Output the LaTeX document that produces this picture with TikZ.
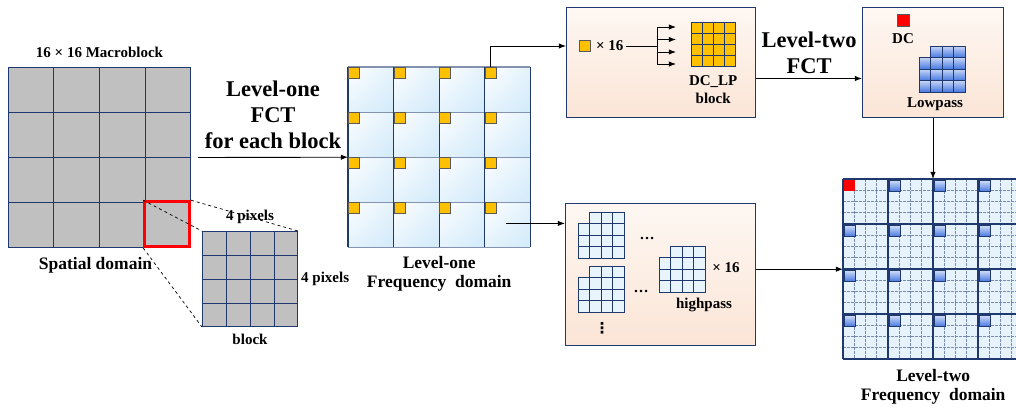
\documentclass[tikz,border=0pt]{standalone}
\usepackage{fontspec}
\setmainfont{Liberation Serif}
\newfontfamily\dotsfont{DejaVu Sans}
\usetikzlibrary{arrows.meta,positioning,calc,shadings}

\definecolor{navy}{RGB}{31,56,110}
\definecolor{pixgray}{RGB}{192,192,192}
\definecolor{dcyellow}{RGB}{255,192,0}
\definecolor{peach}{RGB}{251,229,214}
\definecolor{paleblue}{RGB}{210,234,250}
\definecolor{lpblue}{RGB}{70,120,225}
\definecolor{minorline}{RGB}{120,138,175}

% 4x4 coefficient block without its top-left cell
\newcommand{\stairs}[3]{%
  \foreach \row in {0,...,3}{\foreach \col in {0,...,3}{%
    \ifnum\numexpr\row+\col\relax>0
      \draw[#3] (#1+\col*11.5,#2+\row*11.5) rectangle ++(11.5,11.5);
    \fi}}}

\begin{document}
\begin{tikzpicture}[x=1pt,y=-1pt,>=Latex]
\tikzset{
  lbl/.style={font=\fontsize{15}{18}\selectfont\bfseries, inner sep=0pt, align=center},
  midlbl/.style={font=\fontsize{17.5}{19}\selectfont\bfseries, align=center, inner sep=0pt},
  biglbl/.style={font=\fontsize{22.5}{26}\selectfont\bfseries, align=center, inner sep=0pt},
  pixgrid/.style={draw=navy, line width=1pt, fill=pixgray, inner sep=0pt, anchor=north west},
  stage/.style={draw=navy, line width=1pt, top color=peach!30, bottom color=peach, inner sep=0pt, anchor=north west},
  dcsq/.style={draw=black!65, line width=0.8pt, fill=dcyellow, minimum size=11, inner sep=0pt, anchor=north west},
  lpsq/.style={draw=navy, line width=0.8pt, top color=lpblue!25, bottom color=lpblue, minimum size=11, inner sep=0pt, anchor=north west},
  hpcell/.style={draw=navy, line width=0.8pt, fill=paleblue!50},
  lpcell/.style={draw=navy, line width=0.8pt, top color=lpblue!30, bottom color=lpblue},
  zoomline/.style={dashed, line width=0.7pt},
  link/.style={->, line width=0.9pt}
}
\useasboundingbox (0,0) rectangle (1016,410);

% spatial domain
\node[pixgrid, minimum width=182, minimum height=180] (mb) at (8,67) {};
\foreach \i in {1,2,3} {
  \draw[navy, line width=1pt] ($(mb.north west)!\i/4!(mb.north east)$) -- ($(mb.south west)!\i/4!(mb.south east)$);
  \draw[navy, line width=1pt] ($(mb.north west)!\i/4!(mb.south west)$) -- ($(mb.north east)!\i/4!(mb.south east)$);
}
\node[draw=red, line width=2.8pt, minimum size=45, inner sep=0pt, anchor=south east] (sel) at (mb.south east) {};
\node[pixgrid, minimum size=95] (blk) at (202,231) {};
\foreach \i in {1,2,3} {
  \draw[navy, line width=1pt] ($(blk.north west)!\i/4!(blk.north east)$) -- ($(blk.south west)!\i/4!(blk.south east)$);
  \draw[navy, line width=1pt] ($(blk.north west)!\i/4!(blk.south west)$) -- ($(blk.north east)!\i/4!(blk.south east)$);
}
\draw[zoomline] (sel.north west) -- (blk.north west);
\draw[zoomline] (sel.north east) -- (blk.north east);
\draw[zoomline] (sel.south west) -- (blk.south west);
\node[lbl, above=9pt of mb] (mbtitle) {16 × 16 Macroblock};
\node[midlbl, below=9pt of mb, xshift=-4pt] (spatial) {Spatial domain};
\node[lbl, above=7pt of blk] (toplen) {4 pixels};
\node[lbl, right=3pt of blk] (sidelen) {4 pixels};
\node[lbl, below=7pt of blk] (blkname) {block};

% level-one frequency domain
\node[anchor=north west, minimum width=182, minimum height=180, inner sep=0pt] (fq1) at (348,67) {};
\foreach \row in {0,...,3} \foreach \col in {0,...,3}
  \shade[upper left=white, upper right=paleblue!60, lower left=paleblue!60, lower right=paleblue]
    ($(fq1.north west)+(\col*45.5,\row*45)$) rectangle ++(45.5,45);
\foreach \i in {0,...,4} {
  \draw[navy!55, line width=1.2pt] ($(fq1.north west)!\i/4!(fq1.south west)$) -- ($(fq1.north east)!\i/4!(fq1.south east)$);
}
\foreach \i in {0,...,4} {
  \draw[navy, line width=1.2pt] ($(fq1.north west)!\i/4!(fq1.north east)$) -- ($(fq1.south west)!\i/4!(fq1.south east)$);
}
\foreach \row in {0,...,3} \foreach \col in {0,...,3}
  \node[dcsq] (dc-\row-\col) at ($(fq1.north west)+(\col*45.5,\row*45)$) {};
\node[midlbl, below=9pt of fq1] (fq1name) {Level-one\\Frequency\ \ domain};
\coordinate (hpout) at ($(fq1.south east)+(-24,-24)$);

% DC coefficients
\node[stage, minimum width=189, minimum height=110] (dcbox) at (566,7) {};
\node[dcsq, anchor=center] (dcone) at (585,46) {};
\node[lbl, right=5pt of dcone] (dctimes) {× 16};
\coordinate (fan) at (657,46);
\node[anchor=north west, minimum size=44, inner sep=0pt] (dcgrid) at (691,22) {};
\foreach \row in {0,...,3} \foreach \col in {0,...,3}
  \draw[navy, line width=0.8pt, fill=dcyellow] ($(dcgrid.north west)+(\col*11,\row*11)$) rectangle ++(11,11);
\node[lbl, below=9pt of dcgrid] (dcname) {DC\_LP\\block};

% lowpass after level two
\node[stage, minimum width=141, minimum height=110] (lpbox) at (862,7) {};
\node[draw=black!65, line width=0.8pt, fill=red, minimum size=12, inner sep=0pt] (dcred) at (903,20) {};
\node[lbl, below=7pt of dcred] (dcname2) {DC};
\stairs{919}{46}{lpcell}
\node[lbl] (lpname) at (935,104) {Lowpass};

% highpass blocks
\node[stage, minimum width=190, minimum height=142] (hpbox) at (565,203) {};
\stairs{578}{212}{hpcell}
\stairs{578}{266}{hpcell}
\stairs{659}{246}{hpcell}
\node[lbl] (hpdots1) at (647,238) {\ldots};
\node[lbl] (hpdots2) at (641,291) {\ldots};
\node[lbl, font=\dotsfont\bfseries\fontsize{15}{18}\selectfont] (hpdots3) at (602,328) {⋮};
\node[lbl] (hptimes) at (726,268) {× 16};
\node[lbl] (hpname) at (704,305) {highpass};

% level-two frequency domain
\node[anchor=north west, minimum size=180, inner sep=0pt, fill=paleblue!55] (fq2) at (843,179) {};
\foreach \i in {1,...,15} {
  \draw[minorline, dash pattern=on 2.5pt off 1.5pt, line width=0.6pt] ($(fq2.north west)+(\i*11.25,0)$) -- ++(0,180);
  \draw[minorline, dash pattern=on 2.5pt off 1.5pt, line width=0.6pt] ($(fq2.north west)+(0,\i*11.25)$) -- ++(180,0);
}
\foreach \i in {0,...,4} {
  \draw[navy, line width=1.3pt] ($(fq2.north west)+(\i*45,0)$) -- ++(0,180);
  \draw[navy, line width=1.3pt] ($(fq2.north west)+(0,\i*45)$) -- ++(180,0);
}
\foreach \row in {0,...,3} \foreach \col in {0,...,3} {
  \ifnum\numexpr\row+\col\relax>0
    \node[lpsq] (l2-\row-\col) at ($(fq2.north west)+(\col*45+1,\row*45+1)$) {};
  \fi
}
\node[draw=none, fill=red, minimum size=11, inner sep=0pt, anchor=north west] (l2dc) at ($(fq2.north west)+(1,1)$) {};
\node[midlbl, below=10pt of fq2] (fq2name) {Level-two\\Frequency\ \ domain};

% connectors
\draw[link] ([xshift=7pt]mb.east) -- node[biglbl, above=8pt] (fct1) {Level-one\\FCT\\for each block} (fq1.west);
\draw[link] (dc-0-3.north) |- (dcone -| dcbox.west);
\draw[line width=0.9pt] (dctimes.east) ++(2pt,0) -- (fan);
\draw[line width=0.9pt] ($(fan)+(0,-19)$) -- ($(fan)+(0,18)$);
\foreach \dy in {-19,-6.5,6,18}
  \draw[link] ($(fan)+(0,\dy)$) -- ++(19,0);
\draw[link] ([yshift=-16pt]dcbox.east) -- node[biglbl, above=4pt] (fct2) {Level-two\\FCT} ([yshift=-16pt]lpbox.west);
\draw[link] (lpbox.south) -- (lpbox.south |- fq2.north);
\draw[link] (hpout) -- (hpout -| hpbox.west);
\draw[link] (hpbox.east |- fq2.west) -- (fq2.west);
\end{tikzpicture}
\end{document}
